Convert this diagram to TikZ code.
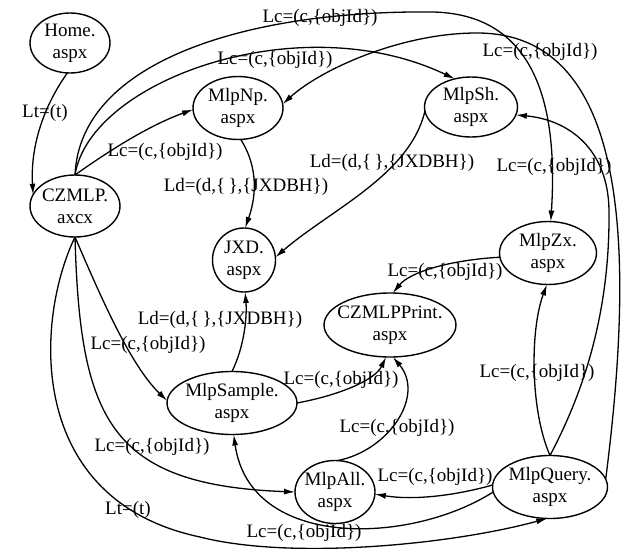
\documentclass[tikz,border=0pt]{standalone}
\usepackage{fontspec}
\setmainfont{Liberation Serif}
\usetikzlibrary{shapes.geometric,arrows.meta}
\begin{document}
\begin{tikzpicture}[x=1pt,y=-1pt,
  every node/.style={font=\fontsize{19}{22}\selectfont},
  st/.style={draw, ellipse, line width=1.4pt, inner sep=0pt, outer sep=0pt},
  nt/.style={align=center, inner sep=0pt},
  lbl/.style={inner sep=0pt},
  arr/.style={line width=1.3pt, -{Latex[length=11pt,width=6pt]}}
]
\useasboundingbox[fill=white] (0,0) rectangle (627,549);

% states
\node[st, minimum width=80pt,  minimum height=60pt, label={[nt]center:Home.\\aspx}] (home) at (70,43) {};
\node[st, minimum width=90pt,  minimum height=62pt, label={[nt]center:CZMLP.\\axcx}] (cz) at (75,206) {};
\node[st, minimum width=90pt,  minimum height=63pt, label={[nt]center:MlpNp.\\aspx}] (np) at (238,108) {};
\node[st, minimum width=63pt,  minimum height=64pt, label={[nt]center:JXD.\\aspx}] (jxd) at (244,260) {};
\node[st, minimum width=93pt,  minimum height=60pt, label={[nt]center:MlpSh.\\aspx}] (sh) at (471,107) {};
\node[st, minimum width=97pt,  minimum height=63pt, label={[nt]center:MlpZx.\\aspx}] (zx) at (548,253) {};
\node[st, minimum width=132pt, minimum height=64pt, label={[nt]center:CZMLPPrint.\\aspx}] (pr) at (390,325) {};
\node[st, minimum width=130pt, minimum height=63pt, label={[nt]center:MlpSample.\\aspx}] (sa) at (232,403) {};
\node[st, minimum width=80pt,  minimum height=63pt, label={[nt]center:MlpAll.\\aspx}] (all) at (335,492) {};
\node[st, minimum width=115pt, minimum height=63pt, label={[nt]center:MlpQuery.\\aspx}] (q) at (550,487) {};

% connectors
\draw[arr] (home.265) .. controls (48,100) and (30,140) .. (cz.165);
\draw[arr] (cz.north) .. controls (110,150) and (150,125) .. (np.182);
\draw[arr] (cz.north) .. controls (90,80) and (300,5) .. (sh.120);
\draw[arr] (cz.north) .. controls (80,60) and (250,10) .. (433,12) .. controls (520,14) and (560,80) .. (zx.85);
\draw[arr] (q.8) .. controls (635,250) and (630,33) .. (477,33) .. controls (400,33) and (320,70) .. (np.5);
\draw[arr] (q.north) .. controls (590,380) and (610,300) .. (609,210) .. controls (608,150) and (570,120) .. (sh.350);
\draw[arr] (sh.185) .. controls (410,175) and (330,210) .. (jxd.5);
\draw[arr] (np.-85) .. controls (260,170) and (255,200) .. (jxd.88);
\draw[arr] (sa.north) .. controls (245,345) and (247,315) .. (jxd.-88);
\draw[arr] (zx.185) .. controls (450,260) and (410,272) .. (pr.85);
\draw[arr] (q.north) .. controls (530,410) and (530,330) .. (zx.-92);
\draw[arr] (cz.south) .. controls (100,295) and (130,365) .. (sa.178);
\draw[arr] (cz.south) .. controls (80,420) and (110,485) .. (all.180);
\draw[arr] (cz.south) .. controls (35,320) and (25,500) .. (200,537) .. controls (290,560) and (450,545) .. (q.-95);
\draw[arr] (sa.0) .. controls (340,395) and (375,380) .. (pr.-97);
\draw[arr] (all.85) .. controls (390,450) and (425,395) .. (pr.-85);
\draw[arr] (q.178) .. controls (450,497) and (410,500) .. (all.-3);
\draw[arr] (q.185) .. controls (410,545) and (250,550) .. (sa.-87);

% labels
\node[lbl] (l1)  at (45,113)  {Lt=(t)};
\node[lbl] (l2)  at (165,152) {Lc=(c,\{objId\})};
\node[lbl] (l3)  at (320,18)  {Lc=(c,\{objId\})};
\node[lbl] (l4)  at (275,60)  {Lc=(c,\{objId\})};
\node[lbl] (l5)  at (540,52)  {Lc=(c,\{objId\})};
\node[lbl] (l6)  at (392,163) {Ld=(d,\{\,\},\{JXDBH\})};
\node[lbl] (l7)  at (554,167) {Lc=(c,\{objId\})};
\node[lbl] (l8)  at (246,187) {Ld=(d,\{\,\},\{JXDBH\})};
\node[lbl] (l9)  at (445,272) {Lc=(c,\{objId\})};
\node[lbl] (l10) at (220,320) {Ld=(d,\{\,\},\{JXDBH\})};
\node[lbl] (l11) at (148,345) {Lc=(c,\{objId\})};
\node[lbl] (l12) at (341,380) {Lc=(c,\{objId\})};
\node[lbl] (l13) at (397,428) {Lc=(c,\{objId\})};
\node[lbl] (l14) at (152,447) {Lc=(c,\{objId\})};
\node[lbl] (l15) at (128,510) {Lt=(t)};
\node[lbl] (l16) at (435,477) {Lc=(c,\{objId\})};
\node[lbl] (l17) at (304,533) {Lc=(c,\{objId\})};
\node[lbl] (l18) at (537,373) {Lc=(c,\{objId\})};
\end{tikzpicture}
\end{document}
